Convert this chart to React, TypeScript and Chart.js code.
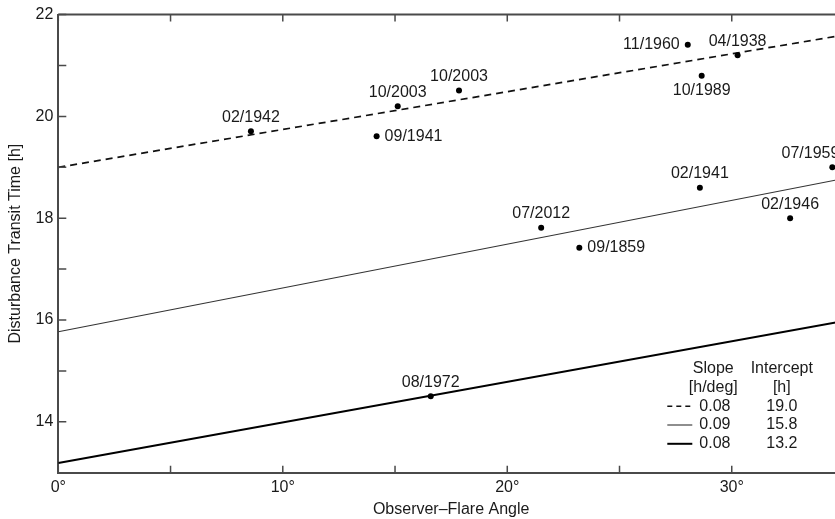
import React, { useEffect, useRef } from "react";
import { Chart, registerables } from "chart.js";

Chart.register(...registerables);

const FONT = "'Liberation Sans', Arial, Helvetica, sans-serif";

// Observation points
const eventLabels = [
  "02/1942", "09/1941", "10/2003", "10/2003", "11/1960", "04/1938", "10/1989",
  "07/1959", "02/1941", "07/2012", "09/1859", "02/1946", "08/1972",
];
const angles = [8.58, 14.18, 15.12, 17.85, 28.04, 30.26, 28.66, 34.48, 28.58, 21.51, 23.21, 32.6, 16.59];
const transitTimes = [19.71, 19.61, 20.2, 20.51, 21.41, 21.2, 20.8, 19.0, 18.6, 17.81, 17.42, 18.0, 14.5];
const labelPlacement = [
  "above", "right", "above", "above", "left", "above", "below",
  "aboveLeft", "above", "above", "right", "above", "above",
];

// Fit lines (endpoints at 0° and 35°)
const fitX = [0, 35];
const fitDashed = [19.0, 21.6];
const fitThin = [15.77, 18.78];
const fitThick = [13.19, 15.98];

// Legend table
const legendSlopes = ["0.08", "0.09", "0.08"];
const legendIntercepts = ["19.0", "15.8", "13.2"];

const xTicksLabelled = [0, 10, 20, 30];
const yTicksLabelled = [14, 16, 18, 20, 22];

const AXIS_COLOR = "#4a4a4a";
const TEXT_COLOR = "#1a1a1a";

const frameTicksPlugin = {
  id: "frameTicks",
  afterDraw(chart: any) {
    const { ctx, chartArea, scales } = chart;
    const { left, right, top, bottom } = chartArea;
    ctx.save();
    ctx.strokeStyle = AXIS_COLOR;
    ctx.lineWidth = 2;
    ctx.beginPath();
    ctx.moveTo(left, top);
    ctx.lineTo(right, top);
    ctx.lineTo(right, bottom);
    ctx.stroke();
    ctx.lineWidth = 1.5;
    ctx.beginPath();
    scales.x.ticks.forEach((t: any) => {
      const px = scales.x.getPixelForValue(t.value);
      ctx.moveTo(px, bottom);
      ctx.lineTo(px, bottom - 7);
      ctx.moveTo(px, top);
      ctx.lineTo(px, top + 7);
    });
    scales.y.ticks.forEach((t: any) => {
      const py = scales.y.getPixelForValue(t.value);
      ctx.moveTo(left, py);
      ctx.lineTo(left + 8, py);
      ctx.moveTo(right, py);
      ctx.lineTo(right - 8, py);
    });
    ctx.stroke();
    ctx.restore();
  },
};

const pointLabelsPlugin = {
  id: "pointLabels",
  afterDatasetsDraw(chart: any) {
    const { ctx } = chart;
    const meta = chart.getDatasetMeta(0);
    ctx.save();
    ctx.font = `16px ${FONT}`;
    ctx.fillStyle = TEXT_COLOR;
    ctx.textBaseline = "middle";
    meta.data.forEach((el: any, i: number) => {
      const p = labelPlacement[i];
      const txt = eventLabels[i];
      if (p === "above") {
        ctx.textAlign = "center";
        ctx.fillText(txt, el.x, el.y - 14);
      } else if (p === "aboveLeft") {
        ctx.textAlign = "right";
        ctx.fillText(txt, el.x + 7, el.y - 14);
      } else if (p === "below") {
        ctx.textAlign = "center";
        ctx.fillText(txt, el.x, el.y + 15);
      } else if (p === "right") {
        ctx.textAlign = "left";
        ctx.fillText(txt, el.x + 8, el.y);
      } else {
        ctx.textAlign = "right";
        ctx.fillText(txt, el.x - 8, el.y);
      }
    });
    ctx.restore();
  },
};

const legendTablePlugin = {
  id: "legendTable",
  afterDraw(chart: any) {
    const { ctx, chartArea } = chart;
    const slopeX = chartArea.left + 655;
    const interX = chartArea.left + 723.5;
    const valueLeft = slopeX - 14;
    const sampleL = slopeX - 46;
    const sampleR = slopeX - 21;
    const headerY = chartArea.top + 354;
    const rowH = 18.8;
    ctx.save();
    ctx.font = `16px ${FONT}`;
    ctx.fillStyle = TEXT_COLOR;
    ctx.textBaseline = "middle";
    ctx.textAlign = "center";
    ctx.fillText("Slope", slopeX, headerY);
    ctx.fillText("[h/deg]", slopeX, headerY + rowH);
    ctx.fillText("Intercept", interX, headerY);
    ctx.fillText("[h]", interX, headerY + rowH);
    const styles = [
      { dash: [5, 4], w: 1.6, c: "#111" },
      { dash: [], w: 1.2, c: "#444" },
      { dash: [], w: 2, c: "#000" },
    ];
    legendSlopes.forEach((s, i) => {
      const y = headerY + rowH * (i + 2);
      ctx.save();
      ctx.setLineDash(styles[i].dash);
      ctx.lineWidth = styles[i].w;
      ctx.strokeStyle = styles[i].c;
      ctx.beginPath();
      ctx.moveTo(sampleL, y);
      ctx.lineTo(sampleR, y);
      ctx.stroke();
      ctx.restore();
      ctx.textAlign = "left";
      ctx.fillText(s, valueLeft, y);
      ctx.textAlign = "center";
      ctx.fillText(legendIntercepts[i], interX, y);
    });
    ctx.restore();
  },
};

export default function App() {
  const ref = useRef<HTMLCanvasElement | null>(null);
  useEffect(() => {
    if (!ref.current) return;
    Chart.defaults.font.family = FONT;
    const mkLine = (ys: number[]) => fitX.map((x, i) => ({ x, y: ys[i] }));
    const chart = new Chart(ref.current, {
      type: "scatter",
      data: {
        datasets: [
          {
            label: "events",
            data: angles.map((x, i) => ({ x, y: transitTimes[i] })),
            pointRadius: 3,
            pointBorderWidth: 0,
            backgroundColor: "#000",
            borderColor: "#000",
          } as any,
          {
            type: "line",
            label: "fit 1",
            data: mkLine(fitDashed),
            borderColor: "#111",
            borderWidth: 1.7,
            borderDash: [7, 5],
            pointRadius: 0,
            showLine: true,
          },
          {
            type: "line",
            label: "fit 2",
            data: mkLine(fitThin),
            borderColor: "#333",
            borderWidth: 1.1,
            pointRadius: 0,
            showLine: true,
          },
          {
            type: "line",
            label: "fit 3",
            data: mkLine(fitThick),
            borderColor: "#000",
            borderWidth: 2,
            pointRadius: 0,
            showLine: true,
          },
        ],
      },
      options: {
        responsive: false,
        animation: false,
        layout: { padding: { top: 14, right: 56, bottom: 0, left: 0 } },
        plugins: { legend: { display: false }, tooltip: { enabled: false } },
        scales: {
          x: {
            type: "linear",
            min: 0,
            max: 35,
            afterFit: (s: any) => {
              s.height = 46.3;
            },
            ticks: {
              stepSize: 5,
              autoSkip: false,
              maxRotation: 0,
              padding: 5,
              color: TEXT_COLOR,
              font: { size: 16 },
              callback: (v: any) => (xTicksLabelled.includes(Number(v)) ? `${v}°` : ""),
            },
            grid: { display: false, drawTicks: false },
            border: { display: true, color: AXIS_COLOR, width: 2 },
            title: {
              display: true,
              text: "Observer–Flare Angle",
              color: TEXT_COLOR,
              font: { size: 16 },
              padding: { top: 0, bottom: 0 },
            },
          },
          y: {
            type: "linear",
            min: 13,
            max: 22,
            afterFit: (s: any) => {
              s.width = 58.3;
            },
            ticks: {
              stepSize: 1,
              autoSkip: false,
              padding: 5,
              color: TEXT_COLOR,
              font: { size: 16 },
              callback: (v: any) => (yTicksLabelled.includes(Number(v)) ? `${v}` : ""),
            },
            grid: { display: false, drawTicks: false },
            border: { display: true, color: AXIS_COLOR, width: 2 },
            title: {
              display: true,
              text: "Disturbance Transit Time [h]",
              color: TEXT_COLOR,
              font: { size: 16 },
              padding: { top: 6, bottom: 0 },
            },
          },
        },
      },
      plugins: [frameTicksPlugin, pointLabelsPlugin, legendTablePlugin],
    } as any);
    return () => chart.destroy();
  }, []);

  return (
    <div
      style={{
        position: "fixed",
        left: 0,
        top: 0,
        width: 835,
        height: 519,
        overflow: "hidden",
        background: "#fff",
      }}
    >
      <canvas ref={ref} width={900} height={519} style={{ width: 900, height: 519, display: "block" }} />
    </div>
  );
}
